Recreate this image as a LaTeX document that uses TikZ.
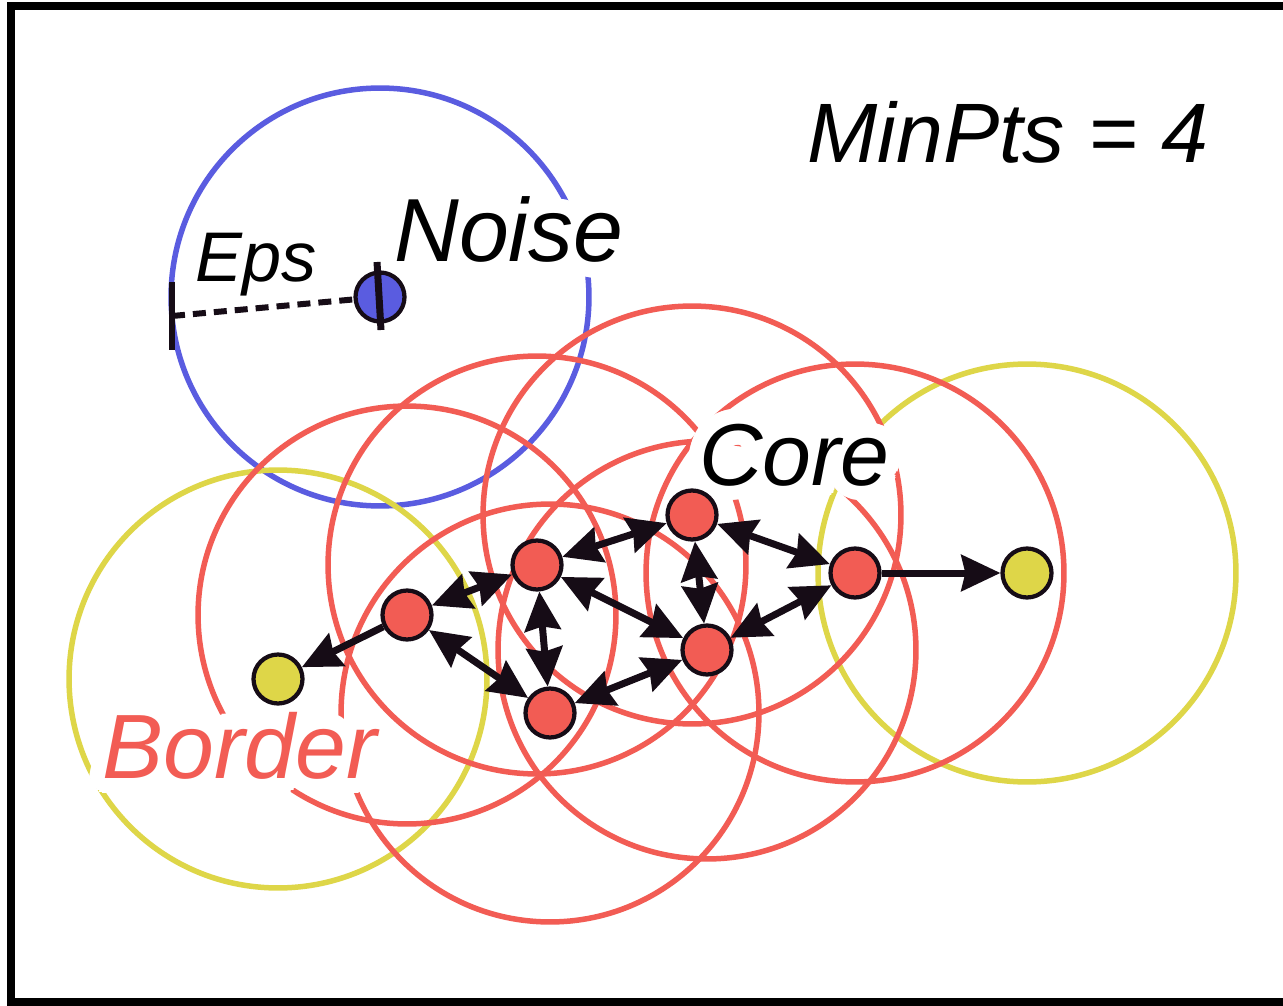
\documentclass[tikz,border=0pt]{standalone}
\usepackage{fontspec}
\setmainfont{Liberation Sans}
\usepackage{contour}
\contournumber{32}
\usetikzlibrary{arrows.meta}
\definecolor{cred}{RGB}{242,92,84}
\definecolor{cyel}{RGB}{222,214,72}
\definecolor{cblue}{RGB}{90,92,224}
\definecolor{cink}{RGB}{22,12,22}
\tikzset{
  ring/.style={line width=0.11cm},
  pt/.style={circle, draw=cink, line width=0.085cm, minimum size=0.98cm, inner sep=0pt},
  corept/.style={pt, fill=cred},
  borderpt/.style={pt, fill=cyel},
  noisept/.style={pt, fill=cblue},
  tipA/.tip={Stealth[length=0.78cm,width=0.72cm,inset=0.08cm]},
  link/.style={draw=cink, line width=0.14cm, tipA-tipA},
  onelink/.style={draw=cink, line width=0.14cm, -tipA},
  lbl/.style={inner sep=0pt, anchor=base west},
}
\begin{document}
\begin{tikzpicture}[x=0.02cm,y=-0.02cm]
\useasboundingbox (0,0) rectangle (1283,1006);
\fill[white] (0,0) rectangle (1283,1006);
% frame (top, left, bottom)
\draw[line width=0.15cm, black] (1283,6) -- (11,6) -- (11,1002) -- (1283,1002);

% point positions
\coordinate (pN) at (380,297);
\coordinate (pA) at (407,615);
\coordinate (pB) at (537,565);
\coordinate (pC) at (692,515);
\coordinate (pD) at (707,650);
\coordinate (pE) at (550,713);
\coordinate (pF) at (855,573);
\coordinate (pG) at (278,679);
\coordinate (pH) at (1027,573);

% eps neighbourhoods
\draw[ring, cblue] (pN) circle[radius=4.18cm];
\draw[ring, cyel] (pG) circle[radius=4.18cm];
\draw[ring, cyel] (pH) circle[radius=4.18cm];
\foreach \p in {pA,pB,pC,pD,pE,pF}
  \draw[ring, cred] (\p) circle[radius=4.18cm];

% labels (white halo opens gaps in the circles)
\contourlength{0.17em}
\node[lbl, font=\fontsize{48pt}{50pt}\selectfont\itshape] (minpts) at (807,163) {MinPts = 4};
\node[lbl, font=\fontsize{51pt}{53pt}\selectfont\itshape] (lnoise) at (394,262) {\contour{white}{Noise}};
\node[lbl, font=\fontsize{50pt}{52pt}\selectfont\itshape] (lcore) at (699,485) {\contour{white}{Core}};
\node[lbl, font=\fontsize{52pt}{54pt}\selectfont\itshape, text=cred] (lborder) at (102,778) {\contour{white}{Border}};
\node[lbl, font=\fontsize{40pt}{42pt}\selectfont\itshape] (leps) at (195,282) {Eps};

% points
\node[noisept] (N) at (pN) {};
\node[corept] (A) at (pA) {};
\node[corept] (B) at (pB) {};
\node[corept] (C) at (pC) {};
\node[corept] (D) at (pD) {};
\node[corept] (E) at (pE) {};
\node[corept] (F) at (pF) {};
\node[borderpt] (G) at (pG) {};
\node[borderpt] (H) at (pH) {};

% eps radius marker
\coordinate (epsL) at (172,316);
\draw[cink, line width=0.12cm] (172,282) -- (172,350);
\draw[cink, line width=0.12cm, dash pattern=on 0.26cm off 0.16cm] (epsL) -- (N);
\draw[cink, line width=0.14cm] (377,262) -- (381,330);

% density-reachability links
\draw[link] (A) -- (B);
\draw[link] (A) -- (E);
\draw[link] (B) -- (C);
\draw[link] (B) -- (E);
\draw[link] (B) -- (D);
\draw[link] (C) -- (D);
\draw[link] (C) -- (F);
\draw[link] (D) -- (E);
\draw[link] (D) -- (F);
\draw[onelink] (A) -- (G);
\draw[onelink] (F) -- (H);
\end{tikzpicture}
\end{document}
